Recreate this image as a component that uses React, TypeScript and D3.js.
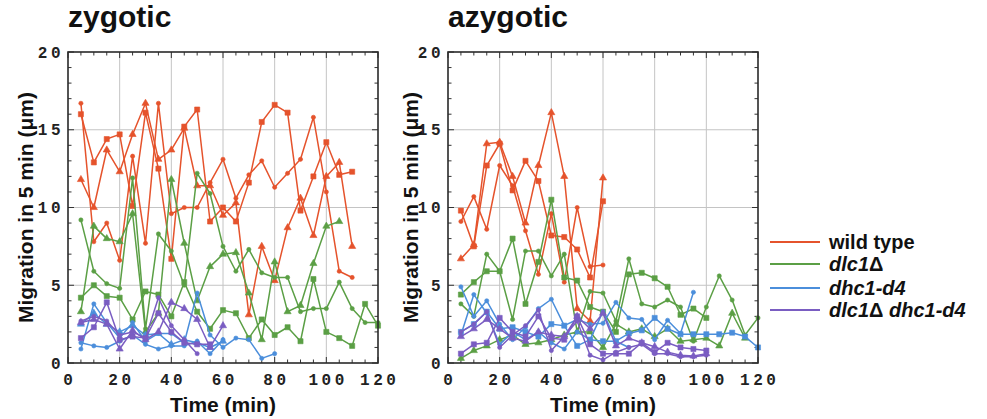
import React from "react";
import * as d3 from "d3";

// ---------- data (time starts at 5 min, step 5 min) ----------
const timeStart = 5;
const timeStep = 5;
const xTicks = [0, 20, 40, 60, 80, 100, 120];
const yTicks = [0, 5, 10, 15, 20];

const groupNames = ["wild type", "dlc1Δ", "dhc1-d4", "dlc1Δ dhc1-d4"];
const groupColors = ["#e5532c", "#5b9f45", "#4b8edb", "#7a5dc2"];

// zygotic
const zWT1 = [16.0, 12.9, 14.4, 14.7, 10.1, 16.1, 12.5, 6.7, 15.2, 16.3, 9.1, 10.0, 9.1, 11.6, 15.5, 16.6, 16.1, 9.8, 12.0, 14.2, 12.1, 12.3];
const zWT2 = [16.7, 7.8, 9.0, 6.6, 13.3, 7.7, 16.7, 9.6, 10.0, 10.0, 11.6, 13.1, 10.6, 12.1, 13.0, 11.3, 12.2, 13.1, 15.8, 11.0, 5.9, 5.5];
const zWT3 = [11.8, 10.0, 13.7, 12.3, 14.7, 16.7, 13.1, 13.7, 15.1, 11.4, 11.4, 9.5, 10.3, 3.1, 7.5, 5.3, 8.7, 10.6, 8.2, 12.0, 12.9, 7.5];
const zD1 = [4.2, 5.0, 4.3, 4.2, 2.8, 4.6, 4.4, 3.0, 5.2, 3.3, 2.2, 3.4, 3.2, 1.6, 2.8, 1.8, 2.3, 1.4, 5.4, 2.0, 1.6, 1.1, 3.8, 2.4];
const zD2 = [9.2, 5.9, 5.1, 4.8, 11.9, 2.2, 8.3, 7.2, 5.0, 12.2, 10.9, 7.5, 5.9, 7.3, 5.8, 5.5, 5.5, 3.3, 3.5, 3.5, 5.2, 3.5, 2.6, 2.6];
const zD3 = [3.3, 8.8, 8.0, 7.8, 9.6, 2.0, 3.2, 11.8, 7.7, 4.0, 6.2, 7.0, 7.1, 4.5, 1.5, 6.5, 3.3, 3.7, 6.4, 8.8, 9.1];
const zH1 = [0.9, 3.8, 2.6, 1.6, 2.6, 1.4, 1.9, 1.9, 1.3, 4.5, 1.8, 1.0, 1.6, 1.5, 0.3, 0.6];
const zH2 = [1.3, 1.1, 1.0, 1.4, 1.8, 1.2, 0.9, 1.1, 1.1, 1.4, 0.6, 1.5];
const zH3 = [2.5, 3.2, 2.5, 2.0, 2.4, 1.8, 1.9, 1.2, 1.5, 1.3, 1.0, 1.4];
const zDD1 = [2.7, 3.0, 2.7, 1.8, 2.0, 1.6, 4.2, 2.4, 1.5, 0.6];
const zDD2 = [1.6, 2.3, 3.9, 1.5, 1.7, 1.6, 3.2, 2.0, 1.3, 1.2, 1.2];
const zDD3 = [2.6, 2.8, 2.5, 0.9, 2.1, 1.5, 2.0, 3.9, 3.5, 2.8, 1.0, 2.4];

// azygotic
const aWT1 = [9.8, 7.5, 12.7, 14.1, 11.1, 13.0, 11.7, 8.2, 8.1, 7.3, 5.5, 10.4];
const aWT2 = [6.7, 7.6, 14.1, 14.2, 12.0, 9.0, 12.7, 16.1, 12.0, 3.5, 2.7, 11.9];
const aWT3 = [9.1, 10.7, 8.6, 12.7, 11.4, 8.5, 5.7, 9.6, 5.2, 10.0, 6.2, 6.3];
const aD1 = [4.4, 5.2, 5.9, 5.9, 8.0, 3.8, 6.5, 10.5, 5.5, 5.3, 3.6, 3.3, 2.0, 5.7, 5.8, 5.45, 4.9, 3.1, 3.5, 2.9];
const aD2 = [3.8, 3.0, 7.0, 5.9, 2.8, 7.2, 7.2, 5.6, 7.0, 2.0, 4.6, 4.5, 2.7, 6.7, 3.8, 3.6, 4.05, 3.6, 1.4, 3.6, 5.6, 4.05, 1.8, 2.9];
const aD3 = [0.3, 0.8, 1.1, 1.5, 1.8, 1.2, 1.3, 1.5, 1.8, 2.0, 2.0, 1.0, 2.5, 2.0, 2.2, 1.7, 2.2, 1.4, 1.5, 1.6, 1.1, 3.2, 1.6];
const aH1 = [2.0, 2.5, 3.3, 2.2, 2.3, 2.0, 1.7, 2.5, 2.4, 1.1, 1.5, 1.4, 1.4, 1.9, 2.1, 2.9, 2.2, 1.85, 1.85, 1.85, 1.85, 1.95, 1.7, 1.0];
const aH2 = [4.9, 3.0, 4.0, 2.5, 1.5, 2.3, 3.5, 4.1, 2.4, 2.8, 2.5, 2.55, 3.9, 2.9, 2.8, 1.5, 2.75, 1.9, 4.55];
const aH3 = [1.8, 4.4, 3.2, 1.2, 2.0, 1.5, 2.0, 1.3, 0.9, 2.0, 1.5, 3.3, 1.4, 1.0];
const aDD1 = [0.6, 1.2, 1.3, 2.9, 2.0, 1.7, 3.0, 1.6, 1.5, 3.0, 1.2, 0.6, 0.6, 0.6, 1.3, 0.7, 1.3, 1.0, 0.9, 0.8];
const aDD2 = [2.0, 2.5, 3.3, 1.0, 1.8, 2.4, 3.4, 0.8, 1.7, 2.7, 0.5, 0.2, 0.7, 1.0, 1.2, 0.6, 0.6, 0.4, 0.4, 0.5];
const aDD3 = [1.7, 2.2, 2.8, 2.2, 1.6, 1.4, 2.0, 1.8, 1.7, 3.0, 2.2, 3.2, 1.1, 1.6, 1.3, 1.05, 0.7, 0.5, 0.45, 0.6];

type Series = { g: number; m: string; v: number[] };

const zygoticSeries: Series[] = [
  { g: 0, m: "square", v: zWT1 },
  { g: 0, m: "circle", v: zWT2 },
  { g: 0, m: "triangle", v: zWT3 },
  { g: 1, m: "square", v: zD1 },
  { g: 1, m: "circle", v: zD2 },
  { g: 1, m: "triangle", v: zD3 },
  { g: 2, m: "circle", v: zH1 },
  { g: 2, m: "circle", v: zH2 },
  { g: 2, m: "triangle", v: zH3 },
  { g: 3, m: "circle", v: zDD1 },
  { g: 3, m: "square", v: zDD2 },
  { g: 3, m: "triangle", v: zDD3 },
];
const azygoticSeries: Series[] = [
  { g: 0, m: "square", v: aWT1 },
  { g: 0, m: "triangle", v: aWT2 },
  { g: 0, m: "circle", v: aWT3 },
  { g: 1, m: "square", v: aD1 },
  { g: 1, m: "circle", v: aD2 },
  { g: 1, m: "triangle", v: aD3 },
  { g: 2, m: "square", v: aH1 },
  { g: 2, m: "circle", v: aH2 },
  { g: 2, m: "circle", v: aH3 },
  { g: 3, m: "square", v: aDD1 },
  { g: 3, m: "circle", v: aDD2 },
  { g: 3, m: "triangle", v: aDD3 },
];

const panels = [
  { title: "zygotic", left: 68, ylabX: 33, series: zygoticSeries },
  { title: "azygotic", left: 448, ylabX: 418, series: azygoticSeries },
];

const TOP = 52;
const BOTTOM = 363;
const PW = 310;

const symGen = (m: string) => {
  if (m === "square") return d3.symbol().type(d3.symbolSquare).size(26)();
  if (m === "triangle") return d3.symbol().type(d3.symbolTriangle).size(22)();
  return d3.symbol().type(d3.symbolCircle).size(14)();
};

const monoFont = "'Liberation Mono', 'DejaVu Sans Mono', monospace";
const sansFont = "'Liberation Sans', Arial, sans-serif";

function Panel({ p }: { p: (typeof panels)[number] }) {
  const x = d3.scaleLinear().domain([0, 120]).range([p.left, p.left + PW]);
  const y = d3.scaleLinear().domain([0, 20]).range([BOTTOM, TOP]);
  const line = d3
    .line<[number, number]>()
    .x((d) => x(d[0]))
    .y((d) => y(d[1]));
  const minorY = d3.range(0, 21, 1);
  const minorX = d3.range(0, 121, 5);
  const L = p.left;
  const R = p.left + PW;
  return (
    <g>
      <text x={L} y={27} fontFamily={sansFont} fontWeight="bold" fontSize={30} fill="#111">
        {p.title}
      </text>
      {xTicks.slice(1, -1).map((t) => (
        <line key={"gx" + t} x1={x(t)} x2={x(t)} y1={TOP} y2={BOTTOM} stroke="#c4c4c4" strokeWidth={1} />
      ))}
      {yTicks.slice(1, -1).map((t) => (
        <line key={"gy" + t} x1={L} x2={R} y1={y(t)} y2={y(t)} stroke="#c4c4c4" strokeWidth={1} />
      ))}
      {minorY.map((t) => {
        const len = t % 5 === 0 ? 6 : 3.5;
        return (
          <g key={"ty" + t}>
            <line x1={L} x2={L + len} y1={y(t)} y2={y(t)} stroke="#333" strokeWidth={1} />
            <line x1={R} x2={R - len} y1={y(t)} y2={y(t)} stroke="#333" strokeWidth={1} />
          </g>
        );
      })}
      {minorX.map((t) => {
        const len = t % 20 === 0 ? 6 : 3.5;
        return (
          <g key={"tx" + t}>
            <line x1={x(t)} x2={x(t)} y1={BOTTOM} y2={BOTTOM - len} stroke="#333" strokeWidth={1} />
            <line x1={x(t)} x2={x(t)} y1={TOP} y2={TOP + len} stroke="#333" strokeWidth={1} />
          </g>
        );
      })}
      {p.series.map((s, i) => {
        const pts: [number, number][] = s.v.map((v, k) => [timeStart + k * timeStep, v]);
        const col = groupColors[s.g];
        const sym = symGen(s.m);
        return (
          <g key={"s" + i}>
            <path d={line(pts) || ""} fill="none" stroke={col} strokeWidth={1.5} strokeLinejoin="round" />
            {pts.map((d, k) => (
              <path key={k} d={sym || ""} transform={`translate(${x(d[0])},${y(d[1])})`} fill={col} stroke={col} strokeWidth={0.6} />
            ))}
          </g>
        );
      })}
      <rect x={L} y={TOP} width={PW} height={BOTTOM - TOP} fill="none" stroke="#2a2a2a" strokeWidth={1.6} />
      {yTicks.map((t) => (
        <text
          key={"yl" + t}
          x={L - 4}
          y={y(t)}
          dy="0.35em"
          textAnchor="end"
          fontFamily={monoFont}
          fontWeight="bold"
          fontSize={16}
          letterSpacing={3.5}
          fill="#222"
        >
          {t}
        </text>
      ))}
      {xTicks.map((t) => (
        <text
          key={"xl" + t}
          x={x(t) + 1.75}
          y={385}
          textAnchor="middle"
          fontFamily={monoFont}
          fontWeight="bold"
          fontSize={16}
          letterSpacing={3.5}
          fill="#222"
        >
          {t}
        </text>
      ))}
      <text x={(L + R) / 2} y={412} textAnchor="middle" fontFamily={sansFont} fontWeight="bold" fontSize={21} fill="#111">
        Time (min)
      </text>
      <text
        transform={`translate(${p.ylabX},${(TOP + BOTTOM) / 2}) rotate(-90)`}
        textAnchor="middle"
        fontFamily={sansFont}
        fontWeight="bold"
        fontSize={21}
        fill="#111"
      >
        Migration in 5 min (μm)
      </text>
    </g>
  );
}

const legendY = [242, 264, 288, 310];

function LegendLabel({ name, italic }: { name: string; italic: boolean }) {
  if (!italic) return <>{name}</>;
  const parts = name.split("Δ");
  return (
    <>
      {parts.map((part, i) => (
        <React.Fragment key={i}>
          {part && <tspan fontStyle="italic">{part}</tspan>}
          {i < parts.length - 1 && <tspan fontStyle="normal">Δ</tspan>}
        </React.Fragment>
      ))}
    </>
  );
}

export default function App() {
  return (
    <svg width={987} height={419} viewBox="0 0 987 419" style={{ position: "absolute", left: 0, top: 0, background: "#fff" }}>
      <rect width={987} height={419} fill="#fff" />
      {panels.map((p) => (
        <Panel key={p.title} p={p} />
      ))}
      {groupNames.map((n, i) => (
        <g key={n}>
          <line x1={770} x2={820} y1={legendY[i]} y2={legendY[i]} stroke={groupColors[i]} strokeWidth={2} />
          <text x={829} y={legendY[i] + 7} fontFamily={sansFont} fontWeight="bold" fontSize={20} fill="#111">
            <LegendLabel name={n} italic={i !== 0} />
          </text>
        </g>
      ))}
    </svg>
  );
}
